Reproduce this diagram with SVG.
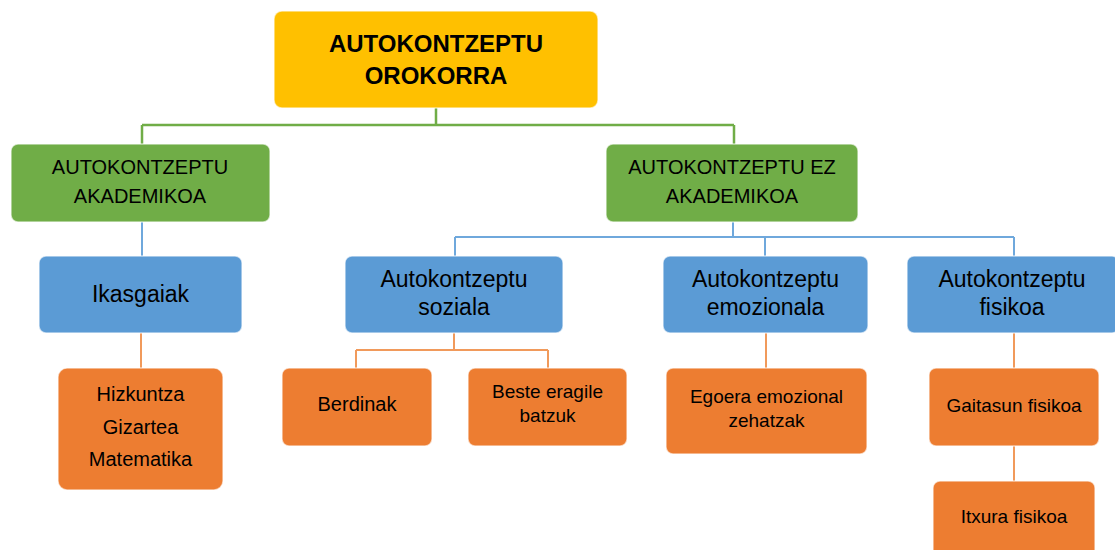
<svg xmlns="http://www.w3.org/2000/svg" width="1115" height="550" viewBox="0 0 1115 550">
<style>
text{font-family:"Liberation Sans",Arial,sans-serif;fill:#000;text-anchor:middle}
.box{stroke:#ffffff;stroke-opacity:0.6;stroke-width:1.5}
.y{fill:#FFC000}.g{fill:#70AD47}.b{fill:#5B9BD5}.o{fill:#ED7D31}
.top{font-size:24px;font-weight:bold}
.gt{font-size:20px}
.bt{font-size:23px}
.ot{font-size:20px}
.ot2{font-size:19px}
.cg{stroke:#70AD47;stroke-width:2.5;fill:none}
.cb{stroke:#6FA8DC;stroke-width:2;fill:none}
.co{stroke:#F19A5B;stroke-width:2;fill:none}
</style>
<rect width="1115" height="550" fill="#ffffff"/>
<g id="connectors">
<path class="cg" d="M436 108V125M142 125H734M142 125V144M734 125V144"/>
<path class="cb" d="M142 222V256"/>
<path class="cb" d="M733 222V237M455 237H1014M455 237V256M765 237V256M1014 237V256"/>
<path class="co" d="M141 333V368"/>
<path class="co" d="M454 333V350M356 350H548M356 350V368M548 350V368"/>
<path class="co" d="M766 333V368"/>
<path class="co" d="M1014 333V368M1014 446V481"/>
</g>
<g id="n-orokorra">
<rect class="box y" x="274" y="11" width="324" height="97" rx="8"/>
<text class="top" x="436" y="52">AUTOKONTZEPTU</text>
<text class="top" x="436" y="84">OROKORRA</text>
</g>
<g id="n-akademikoa">
<rect class="box g" x="11" y="144" width="259" height="78" rx="7"/>
<text class="gt" x="140" y="174">AUTOKONTZEPTU</text>
<text class="gt" x="140" y="203">AKADEMIKOA</text>
</g>
<g id="n-ez-akademikoa">
<rect class="box g" x="606" y="144" width="252" height="78" rx="7"/>
<text class="gt" x="732" y="174">AUTOKONTZEPTU EZ</text>
<text class="gt" x="732" y="203">AKADEMIKOA</text>
</g>
<g id="n-ikasgaiak">
<rect class="box b" x="39" y="256" width="203" height="77" rx="7"/>
<text class="bt" x="140.5" y="302">Ikasgaiak</text>
</g>
<g id="n-soziala">
<rect class="box b" x="345" y="256" width="218" height="77" rx="7"/>
<text class="bt" x="454" y="287">Autokontzeptu</text>
<text class="bt" x="454" y="315">soziala</text>
</g>
<g id="n-emozionala">
<rect class="box b" x="663" y="256" width="205" height="77" rx="7"/>
<text class="bt" x="765.5" y="287">Autokontzeptu</text>
<text class="bt" x="765.5" y="315">emozionala</text>
</g>
<g id="n-fisikoa">
<rect class="box b" x="907" y="256" width="212" height="77" rx="7"/>
<text class="bt" x="1012" y="287">Autokontzeptu</text>
<text class="bt" x="1012" y="315">fisikoa</text>
</g>
<g id="n-ikasgaiak-list">
<rect class="box o" x="58" y="368" width="165" height="122" rx="9"/>
<text class="ot" x="140.5" y="401">Hizkuntza</text>
<text class="ot" x="140.5" y="434">Gizartea</text>
<text class="ot" x="140.5" y="466">Matematika</text>
</g>
<g id="n-berdinak">
<rect class="box o" x="282" y="368" width="150" height="78" rx="7"/>
<text class="ot" x="357" y="411">Berdinak</text>
</g>
<g id="n-beste">
<rect class="box o" x="468" y="368" width="159" height="78" rx="7"/>
<text class="ot2" x="547.5" y="398">Beste eragile</text>
<text class="ot2" x="547.5" y="422">batzuk</text>
</g>
<g id="n-egoera">
<rect class="box o" x="666" y="368" width="201" height="86" rx="7"/>
<text class="ot2" x="766.5" y="403">Egoera emozional</text>
<text class="ot2" x="766.5" y="427">zehatzak</text>
</g>
<g id="n-gaitasun">
<rect class="box o" x="929" y="368" width="170" height="78" rx="7"/>
<text class="ot2" x="1014" y="412">Gaitasun fisikoa</text>
</g>
<g id="n-itxura">
<rect class="box o" x="933" y="481" width="162" height="80" rx="7"/>
<text class="ot2" x="1014" y="523">Itxura fisikoa</text>
</g>
</svg>
